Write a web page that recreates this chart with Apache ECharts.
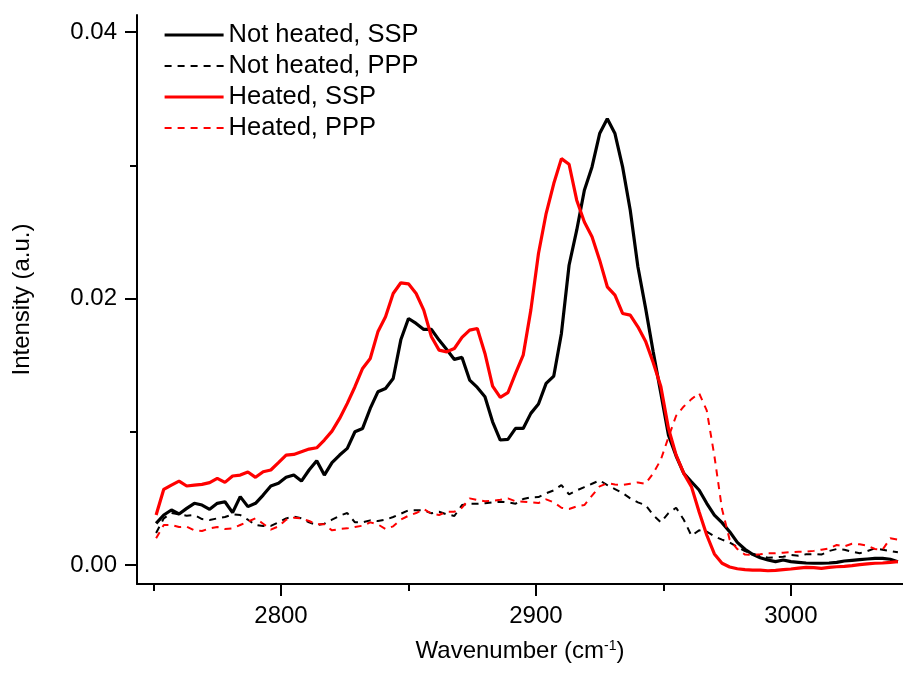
<!DOCTYPE html>
<html>
<head>
<meta charset="utf-8">
<script src="https://cdn.jsdelivr.net/npm/echarts@6/dist/echarts.min.js"></script>
<style>
html,body{margin:0;padding:0;background:#fff;}
#chart{width:903px;height:679px;}
</style>
</head>
<body>
<div id="chart"></div>
<script>
// ---- data ----
const wavenumber = [
2751,2754,2757,2760,2763,2766,2769,2772,2775,2778,
2781,2784,2787,2790,2793,2796,2799,2802,2805,2808,
2811,2814,2817,2820,2823,2826,2829,2832,2835,2838,
2841,2844,2847,2850,2853,2856,2859,2862,2865,2868,
2871,2874,2877,2880,2883,2886,2889,2892,2895,2898,
2901,2904,2907,2910,2913,2916,2919,2922,2925,2928,
2931,2934,2937,2940,2943,2946,2949,2952,2955,2958,
2961,2964,2967,2970,2973,2976,2979,2982,2985,2988,
2991,2994,2997,3000,3003,3006,3009,3012,3015,3018,
3021,3024,3027,3030,3033,3036,3039,3042];

const notHeatedSSP = [
0.00313,0.00375,0.00413,0.00383,0.00425,0.00463,0.00450,0.00418,0.00463,0.00475,
0.00393,0.00513,0.00438,0.00463,0.00525,0.00593,0.00613,0.00658,0.00675,0.00630,
0.00713,0.00783,0.00675,0.00768,0.00825,0.00875,0.01000,0.01025,0.01175,0.01300,
0.01325,0.01400,0.01690,0.01850,0.01813,0.01768,0.01768,0.01688,0.01618,0.01543,
0.01558,0.01388,0.01333,0.01263,0.01075,0.00938,0.00943,0.01025,0.01025,0.01138,
0.01208,0.01363,0.01418,0.01738,0.02250,0.02513,0.02813,0.02988,0.03238,0.03350,
0.03238,0.02988,0.02663,0.02238,0.01930,0.01600,0.01290,0.00975,0.00818,0.00688,
0.00625,0.00563,0.00463,0.00375,0.00318,0.00250,0.00170,0.00118,0.00080,0.00055,
0.00038,0.00025,0.00038,0.00025,0.00020,0.00015,0.00013,0.00013,0.00015,0.00020,
0.00030,0.00035,0.00040,0.00045,0.00050,0.00050,0.00043,0.00025];

const notHeatedPPP = [
0.00240,0.00350,0.00390,0.00380,0.00370,0.00375,0.00345,0.00338,0.00350,0.00360,
0.00380,0.00375,0.00340,0.00300,0.00293,0.00293,0.00320,0.00350,0.00363,0.00350,
0.00320,0.00300,0.00310,0.00340,0.00370,0.00390,0.00320,0.00320,0.00335,0.00330,
0.00340,0.00360,0.00385,0.00410,0.00410,0.00410,0.00388,0.00400,0.00380,0.00368,
0.00450,0.00460,0.00460,0.00463,0.00470,0.00475,0.00470,0.00460,0.00495,0.00508,
0.00510,0.00538,0.00560,0.00600,0.00530,0.00560,0.00585,0.00610,0.00635,0.00600,
0.00570,0.00540,0.00500,0.00470,0.00450,0.00375,0.00320,0.00390,0.00430,0.00340,
0.00220,0.00260,0.00250,0.00215,0.00190,0.00168,0.00135,0.00105,0.00085,0.00068,
0.00055,0.00058,0.00062,0.00075,0.00070,0.00080,0.00082,0.00078,0.00105,0.00120,
0.00115,0.00100,0.00088,0.00105,0.00125,0.00115,0.00105,0.00095];

const heatedSSP = [
0.00375,0.00568,0.00600,0.00630,0.00593,0.00600,0.00605,0.00618,0.00650,0.00620,
0.00668,0.00675,0.00698,0.00658,0.00700,0.00713,0.00768,0.00825,0.00830,0.00850,
0.00870,0.00880,0.00938,0.01005,0.01100,0.01213,0.01338,0.01475,0.01550,0.01750,
0.01863,0.02038,0.02118,0.02110,0.02038,0.01913,0.01713,0.01613,0.01600,0.01625,
0.01708,0.01763,0.01775,0.01588,0.01343,0.01258,0.01293,0.01438,0.01575,0.01913,
0.02338,0.02638,0.02863,0.03050,0.03008,0.02738,0.02575,0.02463,0.02288,0.02088,
0.02025,0.01888,0.01875,0.01788,0.01680,0.01520,0.01340,0.01025,0.00825,0.00688,
0.00588,0.00400,0.00225,0.00083,0.00013,-0.00015,-0.00028,-0.00035,-0.00038,-0.00038,
-0.00043,-0.00040,-0.00035,-0.00030,-0.00023,-0.00018,-0.00020,-0.00025,-0.00018,-0.00013,
-0.00010,-0.00005,0.00003,0.00008,0.00013,0.00015,0.00020,0.00025];

const heatedPPP = [
0.00200,0.00300,0.00300,0.00285,0.00288,0.00260,0.00255,0.00275,0.00285,0.00270,
0.00275,0.00300,0.00325,0.00350,0.00310,0.00265,0.00290,0.00340,0.00355,0.00350,
0.00330,0.00305,0.00305,0.00260,0.00270,0.00275,0.00285,0.00295,0.00320,0.00305,
0.00270,0.00290,0.00340,0.00370,0.00390,0.00420,0.00385,0.00375,0.00400,0.00400,
0.00430,0.00500,0.00488,0.00478,0.00482,0.00490,0.00500,0.00478,0.00475,0.00470,
0.00465,0.00493,0.00470,0.00430,0.00420,0.00440,0.00450,0.00520,0.00590,0.00613,
0.00605,0.00600,0.00610,0.00620,0.00610,0.00688,0.00790,0.00960,0.01120,0.01190,
0.01245,0.01290,0.01160,0.00820,0.00420,0.00190,0.00120,0.00078,0.00075,0.00080,
0.00088,0.00088,0.00092,0.00097,0.00100,0.00100,0.00106,0.00115,0.00125,0.00150,
0.00140,0.00160,0.00155,0.00145,0.00120,0.00115,0.00200,0.00190];

const seriesNames = ['Not heated, SSP', 'Not heated, PPP', 'Heated, SSP', 'Heated, PPP'];

const xMajorTicks = [2800, 2900, 3000];
const xMinorTicks = [2750, 2850, 2950];
const yMajorTicks = [0, 0.02, 0.04];
const yMinorTicks = [0.01, 0.03];

// ---- chart ----
const FONT = '"Liberation Sans", Arial, Helvetica, sans-serif';
const X_MIN = 2743.5, X_MAX = 3044;
const Y_MIN = -0.001426, Y_MAX = 0.04128;

function zip(xs, ys) { return xs.map((x, i) => [x, ys[i]]); }

const axisLineStyle = { color: '#000', width: 2 };
const solidBlack = { color: '#000', width: 3.2, type: 'solid' };
const dashBlack = { color: '#000', width: 2, type: [7, 6] };
const solidRed = { color: '#ff0000', width: 3.2, type: 'solid' };
const dashRed = { color: '#ff0000', width: 2, type: [7, 6] };
const styles = [solidBlack, dashBlack, solidRed, dashRed];
const dataSets = [notHeatedSSP, notHeatedPPP, heatedSSP, heatedPPP];

const chart = echarts.init(document.getElementById('chart'), null, { renderer: 'canvas' });
chart.setOption({
  animation: false,
  backgroundColor: '#fff',
  textStyle: { fontFamily: FONT, color: '#000' },
  grid: { left: 137, top: 15, right: 0, bottom: 95, containLabel: false, outerBoundsMode: 'none' },
  legend: {
    data: seriesNames.map((n, i) => ({ name: n, lineStyle: styles[i], itemStyle: { opacity: 0 } })),
    orient: 'vertical',
    left: 163, top: 22,
    padding: 0,
    itemWidth: 59, itemHeight: 14, itemGap: 5,
    itemStyle: { opacity: 0 },
    textStyle: { fontSize: 25.5, color: '#000', fontFamily: FONT },
    selectedMode: false
  },
  xAxis: [
    {
      type: 'value', min: X_MIN, max: X_MAX, position: 'bottom',
      axisLine: { show: true, onZero: false, lineStyle: axisLineStyle },
      axisTick: { show: true, inside: false, length: 12, lineStyle: axisLineStyle, customValues: xMajorTicks },
      axisLabel: { show: true, customValues: xMajorTicks, fontSize: 24, color: '#000', fontFamily: FONT, margin: 20,
        formatter: v => String(Math.round(v)) },
      splitLine: { show: false },
      name: 'Wavenumber (cm{sup|-1})',
      nameLocation: 'middle', nameGap: 55,
      nameTextStyle: {
        fontSize: 24, color: '#000', fontFamily: FONT,
        rich: { sup: { fontSize: 14, verticalAlign: 'top', color: '#000', fontFamily: FONT } }
      }
    },
    {
      type: 'value', min: X_MIN, max: X_MAX, position: 'bottom', offset: 0,
      axisLine: { show: false, onZero: false },
      axisTick: { show: true, inside: false, length: 7, lineStyle: axisLineStyle, customValues: xMinorTicks },
      axisLabel: { show: false },
      splitLine: { show: false }
    }
  ],
  yAxis: [
    {
      type: 'value', min: Y_MIN, max: Y_MAX, position: 'left',
      axisLine: { show: true, onZero: false, lineStyle: axisLineStyle },
      axisTick: { show: true, inside: false, length: 12, lineStyle: axisLineStyle, customValues: yMajorTicks },
      axisLabel: { show: true, customValues: yMajorTicks, fontSize: 24, color: '#000', fontFamily: FONT, margin: 20,
        formatter: v => Number(v).toFixed(2) },
      splitLine: { show: false },
      name: 'Intensity (a.u.)',
      nameLocation: 'middle', nameGap: 103,
      nameTextStyle: { fontSize: 24, color: '#000', fontFamily: FONT }
    },
    {
      type: 'value', min: Y_MIN, max: Y_MAX, position: 'left', offset: 0,
      axisLine: { show: false, onZero: false },
      axisTick: { show: true, inside: false, length: 7, lineStyle: axisLineStyle, customValues: yMinorTicks },
      axisLabel: { show: false },
      splitLine: { show: false }
    }
  ],
  series: seriesNames.map((n, i) => ({
    name: n, type: 'line', data: zip(wavenumber, dataSets[i]),
    symbol: 'none', showSymbol: false,
    lineStyle: styles[i], itemStyle: { color: styles[i].color }
  }))
});
</script>
</body>
</html>
